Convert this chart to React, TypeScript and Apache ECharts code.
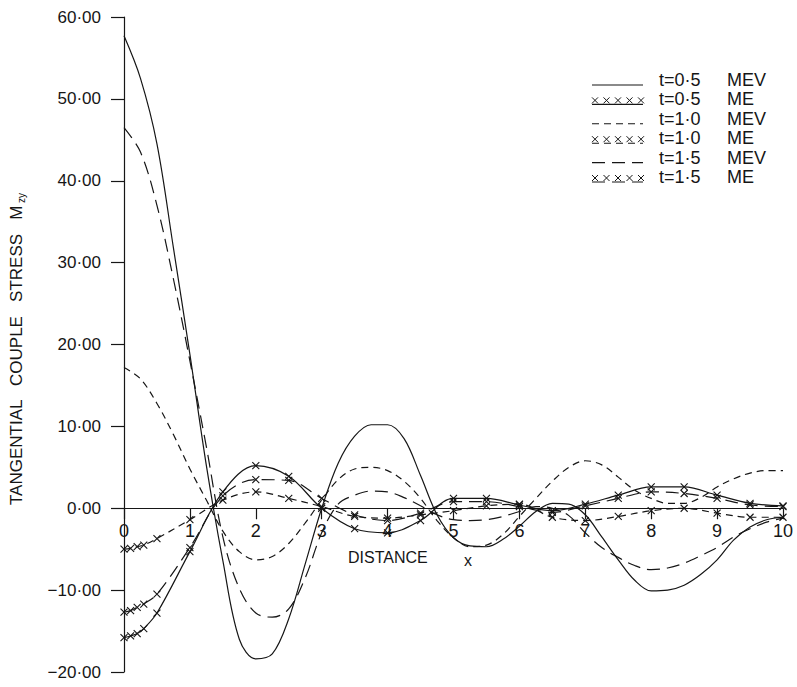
import React, { useEffect, useRef } from "react";
import * as echarts from "echarts";

// Sampling positions along the distance axis
const xFine = [
  0, 0.25, 0.5, 0.75, 1, 1.25, 1.5, 1.75, 2, 2.25, 2.5, 2.75, 3, 3.25, 3.5, 3.75, 4,
  4.25, 4.5, 4.75, 5, 5.25, 5.5, 5.75, 6, 6.25, 6.5, 6.75, 7, 7.25, 7.5, 7.75, 8,
  8.25, 8.5, 8.75, 9, 9.25, 9.5, 9.75, 10,
];
const xMarked = [
  0, 0.1, 0.2, 0.3, 0.5, 1, 1.5, 2, 2.5, 3, 3.5, 4, 4.5, 5, 5.5, 6, 6.5, 7, 7.5, 8,
  8.5, 9, 9.5, 10,
];

// t = 0.5, MEV
const mev05 = [
  57.7, 52.5, 44.5, 31.8, 18.8, 5.2, -6.4, -16.0, -18.4, -17.8, -13.5, -6.8, 0.0,
  5.5, 8.8, 10.2, 10.2, 8.5, 4.0, -0.8, -3.6, -4.6, -4.7, -3.8, -2.2, -0.4, 0.6,
  0.5, -0.8, -3.5, -6.3, -8.8, -10.1, -10.0, -9.4, -8.1, -6.3, -3.9, -2.3, -1.4, -1.1,
];
// t = 1.0, MEV
const mev10 = [
  17.2, 15.8, 12.8, 9.0, 4.8, 1.0, -2.8, -5.3, -6.3, -5.9, -4.3, -1.8, 1.0, 3.5,
  4.8, 5.0, 4.6, 3.3, 1.2, -1.5, -3.6, -4.7, -4.5, -3.2, -1.0, 1.2, 3.3, 5.0, 5.8,
  5.3, 3.8, 2.2, 1.2, 0.6, 0.6, 1.3, 2.6, 3.6, 4.3, 4.6, 4.6,
];
// t = 1.5, MEV
const mev15 = [
  46.5, 43.5, 37.0, 28.0, 18.0, 7.5, -3.5, -9.8, -12.8, -13.3, -12.3, -8.5, -3.0,
  0.5, 1.6, 2.1, 2.0, 1.3, 0.3, -0.8, -1.4, -1.5, -1.4, -1.0, -0.4, 0.2, 0.0, -0.9,
  -3.0, -4.8, -6.0, -7.0, -7.5, -7.3, -6.7, -5.8, -4.8, -3.5, -2.5, -1.7, -1.2,
];
// t = 0.5, ME
const me05 = [
  -15.8, -15.6, -15.3, -14.7, -12.8, -5.3, 2.0, 5.2, 3.9, 0.0, -2.5, -3.0, -1.5,
  1.2, 1.2, 0.4, -0.3, 0.5, 1.6, 2.6, 2.6, 1.6, 0.6, 0.3,
];
// t = 1.0, ME
const me10 = [
  -5.0, -4.9, -4.7, -4.5, -3.7, -1.4, 1.0, 2.0, 1.2, 0.2, -1.0, -1.2, -0.8, -0.3,
  0.3, 0.5, -1.1, -1.5, -1.0, -0.3, 0.0, -0.6, -1.1, -1.1,
];
// t = 1.5, ME
const me15 = [
  -12.7, -12.5, -12.1, -11.7, -10.5, -4.8, 1.5, 3.5, 3.4, 1.2, -0.8, -1.5, -0.6,
  0.8, 0.8, 0.2, -0.5, 0.3, 1.2, 2.0, 1.8, 1.2, 0.4, 0.2,
];

const xTicks = [0, 1, 2, 3, 4, 5, 6, 7, 8, 9, 10];
const yTicks = [-20, -10, 0, 10, 20, 30, 40, 50, 60];

const legendRows = [
  { label: "t=0·5", kind: "MEV", dash: "solid", marks: false },
  { label: "t=0·5", kind: "ME", dash: "solid", marks: true },
  { label: "t=1·0", kind: "MEV", dash: "short", marks: false },
  { label: "t=1·0", kind: "ME", dash: "short", marks: true },
  { label: "t=1·5", kind: "MEV", dash: "long", marks: false },
  { label: "t=1·5", kind: "ME", dash: "long", marks: true },
];

const INK = "#161616";
const FONT = "'Liberation Sans', Arial, sans-serif";
const DASH: Record<string, any> = {
  solid: "solid",
  short: [7, 5],
  long: [13, 7],
};
const CROSS = "path://M0,0L8,8M8,0L0,8";

const pairs = (xs: number[], ys: number[]) => xs.map((x, i) => [x, ys[i]]);

function curve(name: string, xs: number[], ys: number[], dash: string, marks: boolean) {
  return {
    name,
    type: "line",
    data: pairs(xs, ys),
    smooth: 0.35,
    showSymbol: marks,
    symbol: marks ? CROSS : "none",
    symbolSize: 7,
    itemStyle: { color: "transparent", borderColor: INK, borderWidth: 1.1 },
    lineStyle: { color: INK, width: 1.2, type: DASH[dash] },
    emphasis: { disabled: true },
    silent: true,
    z: 3,
  };
}

function legendGraphics() {
  const out: any[] = [];
  const x0 = 592;
  const x1 = 643;
  legendRows.forEach((row, i) => {
    const yc = 80 + i * 19.4;
    out.push({
      type: "line",
      shape: { x1: x0, y1: yc + 5, x2: x1, y2: yc + 5 },
      style: { stroke: INK, lineWidth: 1.1, lineDash: row.dash === "solid" ? null : DASH[row.dash] },
      silent: true,
    });
    if (row.marks) {
      for (let k = 0; k < 5; k++) {
        const cx = x0 + 3 + k * 11.5;
        const cy = yc + 1;
        out.push({
          type: "line",
          shape: { x1: cx - 3, y1: cy - 3, x2: cx + 3, y2: cy + 3 },
          style: { stroke: INK, lineWidth: 1 },
          silent: true,
        });
        out.push({
          type: "line",
          shape: { x1: cx + 3, y1: cy - 3, x2: cx - 3, y2: cy + 3 },
          style: { stroke: INK, lineWidth: 1 },
          silent: true,
        });
      }
    }
    out.push({
      type: "text",
      x: 659,
      y: yc,
      style: { text: row.label, font: `18px ${FONT}`, fill: INK, textVerticalAlign: "middle" },
      silent: true,
    });
    out.push({
      type: "text",
      x: 727,
      y: yc,
      style: { text: row.kind, font: `18px ${FONT}`, fill: INK, textVerticalAlign: "middle" },
      silent: true,
    });
  });
  return out;
}

export default function App() {
  const ref = useRef<HTMLDivElement>(null);

  useEffect(() => {
    if (!ref.current) return;
    const chart = echarts.init(ref.current, null, { renderer: "svg" });
    chart.setOption({
      animation: false,
      backgroundColor: "#ffffff",
      grid: { left: 124, right: 14, top: 17, bottom: 15, containLabel: false, outerBoundsMode: "none" },
      xAxis: {
        type: "value",
        min: xTicks[0],
        max: xTicks[xTicks.length - 1],
        interval: 1,
        axisLine: { onZero: true, lineStyle: { color: INK, width: 1.2 } },
        axisTick: { show: true, inside: false, length: 11, lineStyle: { color: INK, width: 1.2 } },
        axisLabel: { show: false },
        splitLine: { show: false },
      },
      yAxis: {
        type: "value",
        min: yTicks[0],
        max: yTicks[yTicks.length - 1],
        interval: 10,
        axisLine: { show: true, onZero: false, lineStyle: { color: INK, width: 1.2 } },
        axisTick: { show: true, inside: false, length: 13, lineStyle: { color: INK, width: 1.2 } },
        axisLabel: {
          color: INK,
          fontSize: 17,
          fontFamily: FONT,
          margin: 23,
          formatter: (v: number) => v.toFixed(2).replace("-", "\u2212").replace(".", "·"),
        },
        splitLine: { show: false },
      },
      series: [
        curve("t=0·5 MEV", xFine, mev05, "solid", false),
        curve("t=0·5 ME", xMarked, me05, "solid", true),
        curve("t=1·0 MEV", xFine, mev10, "short", false),
        curve("t=1·0 ME", xMarked, me10, "short", true),
        curve("t=1·5 MEV", xFine, mev15, "long", false),
        curve("t=1·5 ME", xMarked, me15, "long", true),
      ],
    });

    // distance tick labels sit just under the zero line
    const tickLabels = xTicks.map((v) => {
      const [px, py] = chart.convertToPixel({ gridIndex: 0 }, [v, 0]) as number[];
      return {
        type: "text",
        x: px,
        y: py + 23,
        style: {
          text: String(v),
          font: `18px ${FONT}`,
          fill: INK,
          textAlign: "center",
          textVerticalAlign: "middle",
        },
        silent: true,
      };
    });

    chart.setOption({
      graphic: [
        ...tickLabels,
        {
          type: "text",
          x: 16,
          y: 505,
          rotation: Math.PI / 2,
          style: {
            text: "TANGENTIAL   COUPLE   STRESS   M",
            font: `17px ${FONT}`,
            fill: INK,
            textAlign: "left",
            textVerticalAlign: "middle",
          },
          silent: true,
        },
        {
          type: "text",
          x: 21,
          y: 203,
          rotation: Math.PI / 2,
          style: {
            text: "zy",
            font: `10px ${FONT}`,
            fill: INK,
            textAlign: "left",
            textVerticalAlign: "middle",
          },
          silent: true,
        },
        {
          type: "text",
          x: 348,
          y: 557,
          style: { text: "DISTANCE", font: `16px ${FONT}`, fill: INK, textVerticalAlign: "middle" },
          silent: true,
        },
        {
          type: "text",
          x: 464,
          y: 560,
          style: { text: "x", font: `16px ${FONT}`, fill: INK, textVerticalAlign: "middle" },
          silent: true,
        },
        ...legendGraphics(),
      ],
    });
    return () => chart.dispose();
  }, []);

  return (
    <div
      ref={ref}
      style={{ position: "fixed", left: 0, top: 0, width: 797, height: 687, background: "#fff" }}
    />
  );
}
